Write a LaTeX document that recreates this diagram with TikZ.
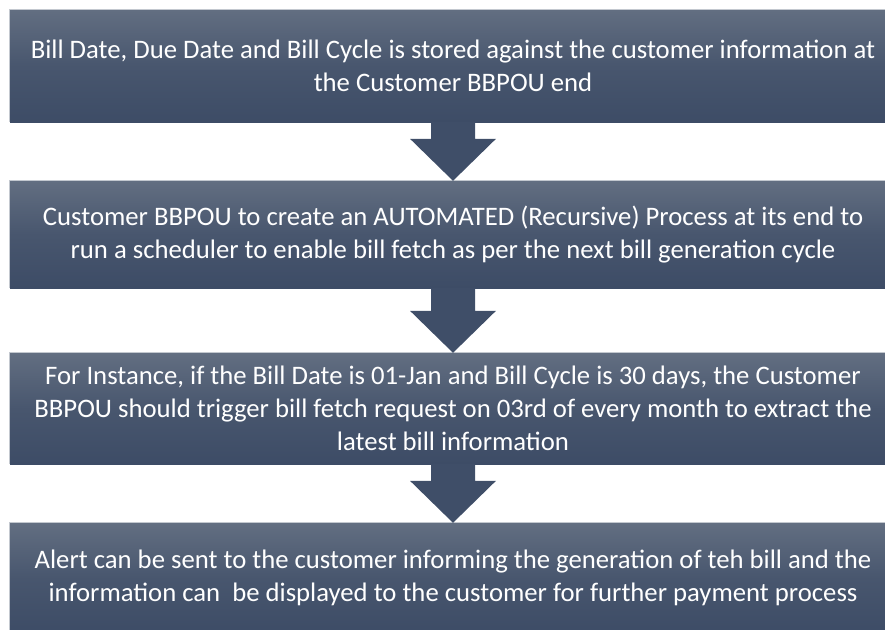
\documentclass[tikz,border=0pt]{standalone}
\usepackage{fontspec}
\setmainfont{Carlito}
\usetikzlibrary{calc}
\definecolor{boxtop}{HTML}{626E81}
\definecolor{boxbottom}{HTML}{3D4C66}
\definecolor{arrowfill}{HTML}{3F4E68}
\definecolor{rimline}{HTML}{C3C8CF}
\tikzset{
  stepbox/.style={rectangle, minimum width=886pt, inner sep=0pt,
    top color=boxtop, bottom color=boxbottom, middle color=boxbottom!70!boxtop,
    text=white, align=center, font=\fontsize{26.7}{33}\selectfont},
  rim/.style={draw=rimline, line width=0.8pt},
  blockarrow/.style={fill=arrowfill}
}
\begin{document}
\begin{tikzpicture}
\useasboundingbox (0,0) rectangle (885pt,-629pt);

\node[stepbox, minimum height=112pt] (b1) at (453pt,-66pt)
  {Bill Date, Due Date and Bill Cycle is stored against the customer information at\\the Customer BBPOU end};
\node[stepbox, minimum height=107pt] (b2) at (453pt,-234.5pt)
  {Customer BBPOU to create an AUTOMATED (Recursive) Process at its end to\\run a scheduler to enable bill fetch as per the next bill generation cycle};
\node[stepbox, minimum height=111pt] (b3) at (453pt,-408.5pt)
  {For Instance, if the Bill Date is 01-Jan and Bill Cycle is 30 days, the Customer\\BBPOU should trigger bill fetch request on 03rd of every month to extract the\\latest bill information};
\node[stepbox, minimum height=110pt] (b4) at (453pt,-578pt)
  {Alert can be sent to the customer informing the generation of teh bill and the\\information can~ be displayed to the customer for further payment process};

% light rim along the top and left edge of every box
\foreach \b in {b1,b2,b3,b4}
  \draw[rim] (\b.south west) |- (\b.north east);

% block arrows between consecutive boxes
\foreach \a/\b in {b1/b2,b2/b3,b3/b4}
  \path[blockarrow] let \p1=(\a.south), \p2=(\b.north) in
    (\x1-22pt,\y1) -- (\x1+22pt,\y1) -- (\x1+22pt,\y2+42pt) -- (\x1+43pt,\y2+42pt)
    -- (\x1,\y2) -- (\x1-43pt,\y2+42pt) -- (\x1-22pt,\y2+42pt) -- cycle;
\end{tikzpicture}
\end{document}
